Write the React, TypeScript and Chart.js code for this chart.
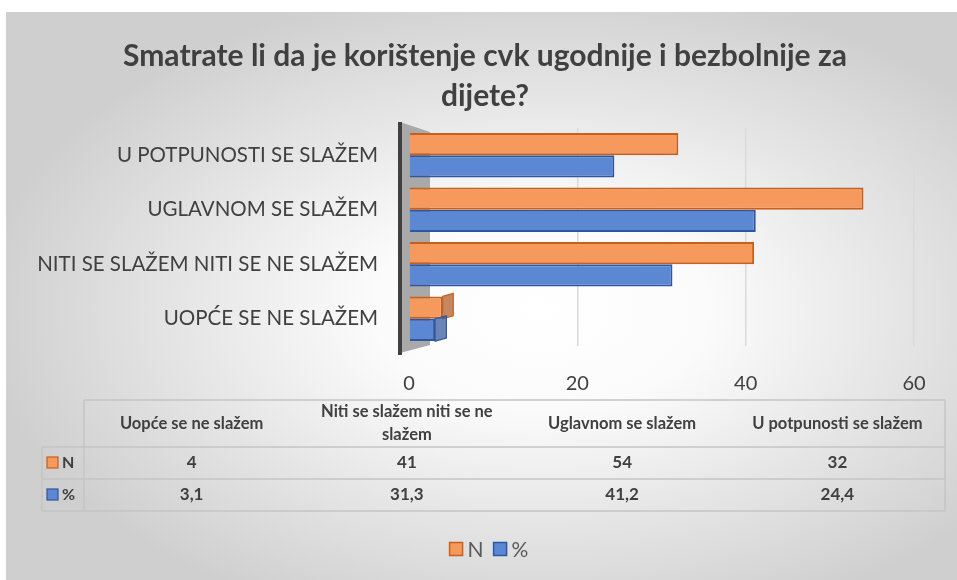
import { useEffect, useRef } from 'react';
import { Chart, registerables } from 'chart.js';

Chart.register(...registerables);

const TITLE_LINES = ['Smatrate li da je korištenje cvk ugodnije i bezbolnije za', 'dijete?'];
const CATEGORIES = ['Uopće se ne slažem', 'Niti se slažem niti se ne slažem', 'Uglavnom se slažem', 'U potpunosti se slažem'];
const SERIES_NAMES = ['N', '%'];
const N_VALUES = [4, 41, 54, 32];
const PCT_VALUES = [3.1, 31.3, 41.2, 24.4];
const X_MIN = 0;
const X_MAX = 60;
const X_STEP = 20;

const ORANGE_FILL = '#F5995C';
const ORANGE_BORDER = '#C95F1C';
const ORANGE_SIDE = 'rgba(176, 98, 46, 0.75)';
const BLUE_FILL = '#5B87D3';
const BLUE_BORDER = '#2F569F';
const BLUE_SIDE = 'rgba(58, 94, 158, 0.75)';
const TEXT = '#404040';
const FONT = 'Lato, "Open Sans", sans-serif';

const fmt = (v: number) => String(v).replace('.', ',');

const backgroundPlugin = {
  id: 'bgPlugin',
  beforeDraw(chart: any) {
    const ctx = chart.ctx;
    ctx.save();
    const cx = 540, cy = 310, rx = 560, ry = 330;
    ctx.translate(cx, cy);
    ctx.scale(rx, ry);
    const g = ctx.createRadialGradient(0, 0, 0, 0, 0, 1);
    g.addColorStop(0, '#ffffff');
    g.addColorStop(0.3, '#fbfbfb');
    g.addColorStop(1, '#cfcfcf');
    ctx.fillStyle = g;
    ctx.fillRect((6 - cx) / rx, (12 - cy) / ry, 951 / rx, 568 / ry);
    ctx.restore();

    // title
    ctx.save();
    ctx.fillStyle = TEXT;
    ctx.font = `bold 30px ${FONT}`;
    ctx.textAlign = 'center';
    ctx.textBaseline = 'middle';
    TITLE_LINES.forEach((l, i) => ctx.fillText(l, 485, 56 + i * 40));
    ctx.restore();
  },
};

const wallPlugin = {
  id: 'wallPlugin',
  beforeDatasetsDraw(chart: any) {
    const { ctx, chartArea } = chart;
    const { left, top, bottom } = chartArea;
    ctx.save();
    ctx.fillStyle = '#a9a9a9';
    ctx.beginPath();
    ctx.moveTo(left - 9, top - 6);
    ctx.lineTo(left + 21, top + 4);
    ctx.lineTo(left + 21, bottom - 1);
    ctx.lineTo(left - 9, bottom + 7);
    ctx.closePath();
    ctx.fill();
    ctx.strokeStyle = '#404040';
    ctx.lineWidth = 4;
    ctx.beginPath();
    ctx.moveTo(left - 9, top - 6);
    ctx.lineTo(left - 9, bottom + 9);
    ctx.stroke();
    ctx.restore();
  },
};

const sideFacePlugin = {
  id: 'sideFacePlugin',
  afterDatasetsDraw(chart: any) {
    const ctx = chart.ctx;
    const vanishX = chart.chartArea.left + (chart.chartArea.right - chart.chartArea.left) * 0.3;
    ctx.save();
    chart.data.datasets.forEach((ds: any, di: number) => {
      const meta = chart.getDatasetMeta(di);
      meta.data.forEach((bar: any) => {
        const depth = (vanishX - bar.x) * 0.09;
        if (depth <= 1) return;
        const t = bar.y - bar.height / 2;
        const b = bar.y + bar.height / 2;
        ctx.fillStyle = di === 0 ? ORANGE_SIDE : BLUE_SIDE;
        ctx.strokeStyle = di === 0 ? ORANGE_BORDER : BLUE_BORDER;
        ctx.lineWidth = 1.2;
        ctx.beginPath();
        ctx.moveTo(bar.x, t);
        ctx.lineTo(bar.x + depth, t - 3);
        ctx.lineTo(bar.x + depth, b - 3);
        ctx.lineTo(bar.x, b);
        ctx.closePath();
        ctx.fill();
        ctx.stroke();
      });
    });
    ctx.restore();
  },
};

function wrap(ctx: CanvasRenderingContext2D, text: string, maxW: number): string[] {
  const words = text.split(' ');
  const lines: string[] = [];
  let cur = '';
  for (const w of words) {
    const t = cur ? cur + ' ' + w : w;
    if (ctx.measureText(t).width > maxW && cur) {
      lines.push(cur);
      cur = w;
    } else cur = t;
  }
  if (cur) lines.push(cur);
  return lines;
}

const tablePlugin = {
  id: 'tablePlugin',
  afterDraw(chart: any) {
    const ctx: CanvasRenderingContext2D = chart.ctx;
    const tLeft = 42, kRight = 84, tRight = 945;
    const yTop = 400, yHead = 447, yR1 = 479, yR2 = 511;
    ctx.save();
    ctx.strokeStyle = '#c4c4c4';
    ctx.lineWidth = 1.5;
    const line = (x1: number, y1: number, x2: number, y2: number) => {
      ctx.beginPath();
      ctx.moveTo(x1, y1);
      ctx.lineTo(x2, y2);
      ctx.stroke();
    };
    line(kRight, yTop, tRight, yTop);
    line(tLeft, yHead, tRight, yHead);
    line(tLeft, yR1, tRight, yR1);
    line(tLeft, yR2, tRight, yR2);
    line(kRight, yTop, kRight, yR2);
    line(tRight, yTop, tRight, yR2);
    line(tLeft, yHead, tLeft, yR2);

    const colW = (tRight - kRight) / CATEGORIES.length;
    ctx.fillStyle = TEXT;
    ctx.textAlign = 'center';
    ctx.textBaseline = 'middle';
    ctx.font = `bold 16.5px ${FONT}`;
    CATEGORIES.forEach((c, i) => {
      const cx = kRight + colW * (i + 0.5);
      const lines = wrap(ctx, c, colW - 10);
      const lh = 23;
      const y0 = (yTop + yHead) / 2 - ((lines.length - 1) * lh) / 2;
      lines.forEach((l, j) => ctx.fillText(l, cx, y0 + j * lh));
    });
    ctx.font = `bold 17px ${FONT}`;
    const rows = [
      { name: SERIES_NAMES[0], vals: N_VALUES, fill: ORANGE_FILL, border: ORANGE_BORDER, y: (yHead + yR1) / 2 },
      { name: SERIES_NAMES[1], vals: PCT_VALUES, fill: BLUE_FILL, border: BLUE_BORDER, y: (yR1 + yR2) / 2 },
    ];
    rows.forEach((r) => {
      r.vals.forEach((v, i) => {
        ctx.fillText(fmt(v), kRight + colW * (i + 0.5), r.y);
      });
      ctx.fillStyle = r.fill;
      ctx.strokeStyle = r.border;
      ctx.lineWidth = 1.2;
      ctx.fillRect(47, r.y - 6, 11, 11);
      ctx.strokeRect(47, r.y - 6, 11, 11);
      ctx.fillStyle = TEXT;
      ctx.textAlign = 'left';
      ctx.font = `bold 16px ${FONT}`;
      ctx.fillText(r.name, 62, r.y);
      ctx.font = `bold 17px ${FONT}`;
      ctx.textAlign = 'center';
    });

    // legend
    ctx.font = `21px ${FONT}`;
    ctx.textAlign = 'left';
    const ly = 549;
    const items = [
      { name: SERIES_NAMES[0], fill: ORANGE_FILL, border: ORANGE_BORDER },
      { name: SERIES_NAMES[1], fill: BLUE_FILL, border: BLUE_BORDER },
    ];
    let total = 0;
    const widths = items.map((it) => ctx.measureText(it.name).width);
    items.forEach((_, i) => (total += 13 + 5 + widths[i]));
    total += 10;
    let x = 489 - total / 2;
    items.forEach((it, i) => {
      ctx.fillStyle = it.fill;
      ctx.strokeStyle = it.border;
      ctx.lineWidth = 1.5;
      ctx.fillRect(x, ly - 6.5, 13, 13);
      ctx.strokeRect(x, ly - 6.5, 13, 13);
      ctx.fillStyle = '#595959';
      ctx.fillText(it.name, x + 18, ly + 1);
      x += 13 + 5 + widths[i] + 10;
    });
    ctx.restore();
  },
};

export default function App() {
  const ref = useRef<HTMLCanvasElement>(null);
  useEffect(() => {
    if (!ref.current) return;
    const chart = new Chart(ref.current, {
      type: 'bar',
      data: {
        labels: CATEGORIES.map((c) => c.toUpperCase()),
        datasets: [
          {
            label: SERIES_NAMES[0],
            data: N_VALUES,
            backgroundColor: ORANGE_FILL,
            borderColor: ORANGE_BORDER,
            borderWidth: 2,
            categoryPercentage: 0.82,
            barPercentage: 1,
          },
          {
            label: SERIES_NAMES[1],
            data: PCT_VALUES,
            backgroundColor: BLUE_FILL,
            borderColor: BLUE_BORDER,
            borderWidth: 2,
            categoryPercentage: 0.82,
            barPercentage: 1,
          },
        ],
      },
      options: {
        indexAxis: 'y',
        responsive: false,
        animation: false,
        devicePixelRatio: 1,
        layout: { padding: { left: 6, right: 43, top: 128, bottom: 184 } },
        plugins: {
          legend: { display: false },
          tooltip: { enabled: false },
          title: { display: false },
        },
        scales: {
          x: {
            type: 'linear',
            min: X_MIN,
            max: X_MAX,
            ticks: { stepSize: X_STEP, color: TEXT, font: { family: FONT, size: 20 }, padding: 26 },
            grid: {
              drawTicks: false,
              color: (c: any) => (c.tick && c.tick.value === 0 ? 'rgba(0,0,0,0)' : '#dadada'),
              lineWidth: 1.5,
            },
            border: { display: false },
            afterFit: (s: any) => {
              s.height = 50;
            },
          },
          y: {
            reverse: true,
            ticks: { color: TEXT, font: { family: FONT, size: 20.5 }, padding: 31 },
            grid: { display: false, drawTicks: false },
            border: { display: false },
            afterFit: (s: any) => {
              s.width = 403;
            },
          },
        },
      },
      plugins: [backgroundPlugin, wallPlugin, sideFacePlugin, tablePlugin],
    } as any);
    return () => chart.destroy();
  }, []);
  return (
    <div style={{ position: 'fixed', left: 0, top: 0, width: 957, height: 580 }}>
      <canvas ref={ref} width={957} height={580} />
    </div>
  );
}
